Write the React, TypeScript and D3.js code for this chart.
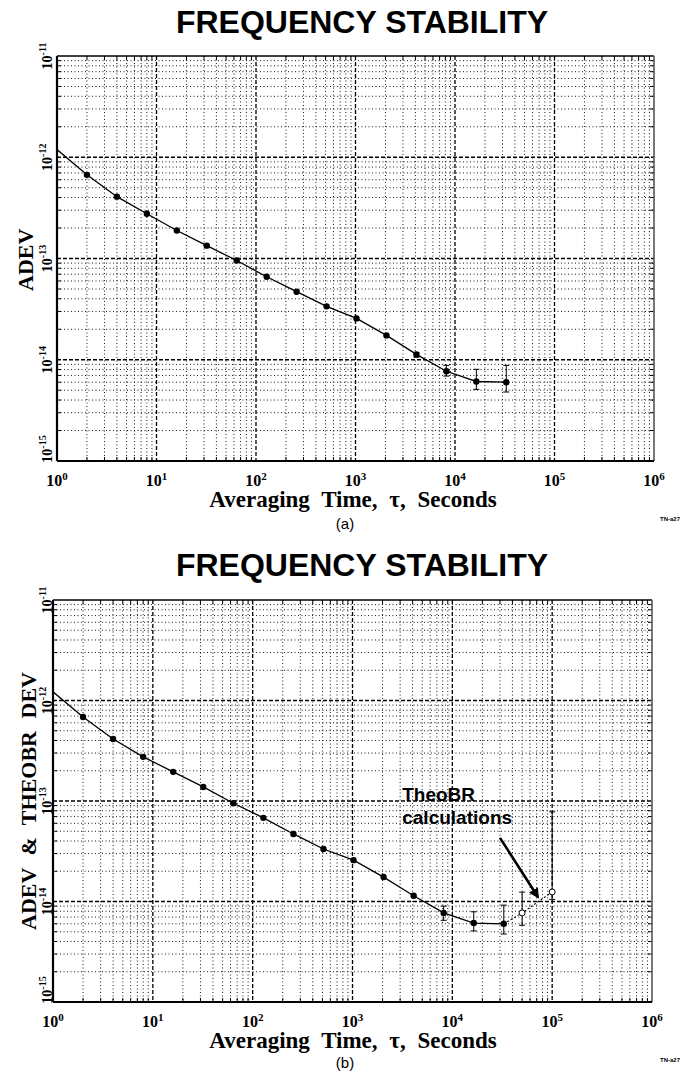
import React from "react";
import * as d3 from "d3";

// ---------- data ----------
const titleText = "FREQUENCY STABILITY";
const xTickExps = [0, 1, 2, 3, 4, 5, 6];
const yTickExps = [-15, -14, -13, -12, -11];

// panel (a) ADEV
const tauA = [1, 2, 4, 8, 16, 32, 64, 128, 256, 512, 1024, 2048, 4096, 8192, 16384, 32768];
const adevA = [1.19e-12, 6.7e-13, 4.08e-13, 2.77e-13, 1.89e-13, 1.34e-13, 9.55e-14, 6.6e-14, 4.7e-14, 3.37e-14, 2.56e-14, 1.74e-14, 1.13e-14, 7.7e-15, 6.1e-15, 6.0e-15];
const errLoA: (number | null)[] = [null, null, null, null, null, null, null, null, null, null, null, null, 1.06e-14, 6.9e-15, 5.1e-15, 4.8e-15];
const errHiA: (number | null)[] = [null, null, null, null, null, null, null, null, null, null, null, null, 1.18e-14, 8.8e-15, 8.05e-15, 8.8e-15];

// panel (b) ADEV
const tauB = [1, 2, 4, 8, 16, 32, 64, 128, 256, 512, 1024, 2048, 4096, 8192, 16384, 32768];
const adevB = [1.22e-12, 6.86e-13, 4.14e-13, 2.75e-13, 1.95e-13, 1.38e-13, 9.5e-14, 6.8e-14, 4.7e-14, 3.33e-14, 2.58e-14, 1.75e-14, 1.14e-14, 7.7e-15, 6.1e-15, 6.0e-15];
const errLoB: (number | null)[] = [null, null, null, null, null, null, null, null, null, null, null, null, null, 6.5e-15, 5.1e-15, 4.75e-15];
const errHiB: (number | null)[] = [null, null, null, null, null, null, null, null, null, null, null, null, null, 9.0e-15, 7.9e-15, 9.2e-15];

// panel (b) TheoBR
const tauTheo = [50000, 100000];
const theoVal = [7.7e-15, 1.245e-14];
const theoLo = [5.8e-15, 1.05e-14];
const theoHi = [1.24e-14, 7.8e-14];

// annotation (data coordinates)
const annLines = ["TheoBR", "calculations"];
const annTau = 3150;
const annVals = [1.0e-13, 5.9e-14];
const arrowFrom = { tau: 30000, val: 4.3e-14 };
const arrowTo = { tau: 72000, val: 1.11e-14 };

const yLabelA = "ADEV";
const yLabelB = "ADEV & THEOBR DEV";
const xLabel = "Averaging Time, \u03c4, Seconds";

// ---------- layout ----------
const W = 689;
const H = 1080;
const SERIF = "'Liberation Serif', 'Times New Roman', serif";
const SANS = "'Liberation Sans', Arial, sans-serif";

type Geo = {
  left: number; right: number; top: number; bottom: number;
  titleY: number; yLabelX: number; yLabelY: number; capY: number;
};

const geoA: Geo = { left: 57, right: 654, top: 56, bottom: 461, titleY: 33, yLabelX: 33, yLabelY: 291, capY: 529 };
const geoB: Geo = { left: 53, right: 652, top: 600, bottom: 1002, titleY: 576, yLabelX: 36, yLabelY: 930, capY: 1068 };

function minorVals(lo: number, hi: number) {
  const out: number[] = [];
  for (let e = lo; e < hi; e++) {
    for (let k = 2; k <= 9; k++) out.push(k * Math.pow(10, e));
  }
  return out;
}

function Panel(props: {
  g: Geo; id: string; caption: string; yLabel: string;
  tau: number[]; val: number[]; lo: (number | null)[]; hi: (number | null)[];
  theo?: boolean;
}) {
  const { g, id, caption, yLabel, tau, val, lo, hi, theo } = props;
  const x = d3.scaleLog().domain([1, 1e6]).range([g.left, g.right]);
  const y = d3.scaleLog().domain([1e-15, 1e-11]).range([g.bottom, g.top]);
  const xMinor = minorVals(0, 6);
  const yMinor = minorVals(-15, -11);
  const line = d3.line<[number, number]>().x((d) => x(d[0])).y((d) => y(d[1]));
  const pts: [number, number][] = tau.map((t, i) => [t, val[i]]);
  const theoPts: [number, number][] = theo
    ? [[tau[tau.length - 1], val[val.length - 1]], ...tauTheo.map((t, i) => [t, theoVal[i]] as [number, number])]
    : [];
  const tick = 4;

  return (
    <g>
      <text x={362} y={g.titleY} textAnchor="middle" fontFamily={SANS} fontWeight="bold" fontSize={32} fill="#000">
        {titleText}
      </text>
      <defs>
        <clipPath id={"clip" + id}>
          <rect x={g.left} y={g.top} width={g.right - g.left} height={g.bottom - g.top} />
        </clipPath>
      </defs>
      {/* minor grid */}
      {xMinor.map((v, i) => (
        <line key={"xm" + i} x1={x(v)} x2={x(v)} y1={g.top} y2={g.bottom} stroke="#000" strokeWidth={0.9} strokeDasharray="1,2.5" />
      ))}
      {yMinor.map((v, i) => (
        <line key={"ym" + i} x1={g.left} x2={g.right} y1={y(v)} y2={y(v)} stroke="#000" strokeWidth={0.9} strokeDasharray="1,2.5" />
      ))}
      {/* major grid */}
      {xTickExps.slice(1, -1).map((e) => (
        <line key={"xM" + e} x1={x(Math.pow(10, e))} x2={x(Math.pow(10, e))} y1={g.top} y2={g.bottom} stroke="#000" strokeWidth={1.3} strokeDasharray="4,2" />
      ))}
      {yTickExps.slice(1, -1).map((e) => (
        <line key={"yM" + e} x1={g.left} x2={g.right} y1={y(Math.pow(10, e))} y2={y(Math.pow(10, e))} stroke="#000" strokeWidth={1.3} strokeDasharray="4,2" />
      ))}
      {/* small ticks */}
      {xMinor.map((v, i) => (
        <g key={"xt" + i}>
          <line x1={x(v)} x2={x(v)} y1={g.bottom} y2={g.bottom - tick} stroke="#000" strokeWidth={1} />
          <line x1={x(v)} x2={x(v)} y1={g.top} y2={g.top + tick} stroke="#000" strokeWidth={1} />
        </g>
      ))}
      {yMinor.map((v, i) => (
        <g key={"yt" + i}>
          <line x1={g.left} x2={g.left + tick} y1={y(v)} y2={y(v)} stroke="#000" strokeWidth={1} />
          <line x1={g.right} x2={g.right - tick} y1={y(v)} y2={y(v)} stroke="#000" strokeWidth={1} />
        </g>
      ))}
      {/* frame */}
      <line x1={g.left} x2={g.right} y1={g.top} y2={g.top} stroke="#000" strokeWidth={1.6} />
      <line x1={g.right} x2={g.right} y1={g.top} y2={g.bottom} stroke="#555" strokeWidth={1.6} />
      <line x1={g.left} x2={g.right} y1={g.bottom} y2={g.bottom} stroke="#000" strokeWidth={2.2} />
      <line x1={g.left} x2={g.left} y1={g.top} y2={g.bottom} stroke="#000" strokeWidth={2.2} />

      {/* data */}
      <g clipPath={`url(#clip${id})`}>
        <path d={line(pts) || ""} fill="none" stroke="#000" strokeWidth={1.3} />
        {theo && <path d={line(theoPts) || ""} fill="none" stroke="#000" strokeWidth={1.1} strokeDasharray="2,2" />}
        {tau.map((t, i) =>
          lo[i] != null && hi[i] != null ? (
            <g key={"eb" + i}>
              <line x1={x(t)} x2={x(t)} y1={y(lo[i] as number)} y2={y(hi[i] as number)} stroke="#000" strokeWidth={1} />
              <line x1={x(t) - 3} x2={x(t) + 3} y1={y(lo[i] as number)} y2={y(lo[i] as number)} stroke="#000" strokeWidth={1} />
              <line x1={x(t) - 3} x2={x(t) + 3} y1={y(hi[i] as number)} y2={y(hi[i] as number)} stroke="#000" strokeWidth={1} />
            </g>
          ) : null
        )}
        {tau.map((t, i) => (t > 1 ? <circle key={"p" + i} cx={x(t)} cy={y(val[i])} r={3.2} fill="#000" /> : null))}
        {theo &&
          tauTheo.map((t, i) => (
            <g key={"th" + i}>
              <line x1={x(t)} x2={x(t)} y1={y(theoLo[i])} y2={y(theoHi[i])} stroke="#000" strokeWidth={1} />
              <line x1={x(t) - 3} x2={x(t) + 3} y1={y(theoLo[i])} y2={y(theoLo[i])} stroke="#000" strokeWidth={1} />
              <line x1={x(t) - 3} x2={x(t) + 3} y1={y(theoHi[i])} y2={y(theoHi[i])} stroke="#000" strokeWidth={1} />
              <circle cx={x(t)} cy={y(theoVal[i])} r={3} fill="#fff" stroke="#000" strokeWidth={1} />
            </g>
          ))}
      </g>

      {/* annotation */}
      {theo && (
        <g>
          {annLines.map((s, i) => (
            <text key={"an" + i} x={x(annTau)} y={y(annVals[i])} fontFamily={SANS} fontWeight="bold" fontSize={19} fill="#000">
              {s}
            </text>
          ))}
          <line x1={x(arrowFrom.tau)} y1={y(arrowFrom.val)} x2={x(arrowTo.tau)} y2={y(arrowTo.val)} stroke="#000" strokeWidth={2.6} markerEnd="url(#arrowhead)" />
        </g>
      )}

      {/* x tick labels */}
      {xTickExps.map((e) => (
        <text key={"xl" + e} x={x(Math.pow(10, e))} y={g.bottom + 25} textAnchor="middle" fontFamily={SERIF} fontWeight="bold" fontSize={16} fill="#000">
          10<tspan dy={-6} fontSize={11}>{e}</tspan>
        </text>
      ))}
      {/* y tick labels */}
      {yTickExps.map((e) => {
        const yy = y(Math.pow(10, e)) - (e === -15 ? 12 : 0);
        return (
          <text key={"yl" + e} transform={`translate(52,${yy}) rotate(-90)`} textAnchor="middle" fontFamily={SERIF} fontWeight="bold" fontSize={14} fill="#000">
            10<tspan dy={-6} fontSize={10}>{e}</tspan>
          </text>
        );
      })}
      {/* axis titles */}
      <text transform={`translate(${g.yLabelX},${g.yLabelY}) rotate(-90)`} textAnchor="start" fontFamily={SERIF} fontWeight="bold" fontSize={22} wordSpacing={7} fill="#000">
        {yLabel}
      </text>
      <text x={353} y={g.bottom + 46} textAnchor="middle" fontFamily={SERIF} fontWeight="bold" fontSize={23} wordSpacing={6} fill="#000">
        {xLabel}
      </text>
      <text x={345} y={g.capY} textAnchor="middle" fontFamily={SANS} fontSize={15} fill="#000">
        {caption}
      </text>
      <text x={660} y={g.bottom + 60} fontFamily={SANS} fontWeight="bold" fontSize={6} fill="#000">
        TN-a27
      </text>
    </g>
  );
}

export default function App() {
  return (
    <svg width={W} height={H} viewBox={`0 0 ${W} ${H}`} style={{ position: "absolute", left: 0, top: 0, background: "#fff" }}>
      <defs>
        <marker id="arrowhead" viewBox="0 0 10 10" refX="8" refY="5" markerWidth="4" markerHeight="4" orient="auto">
          <path d="M0,0 L10,5 L0,10 z" fill="#000" />
        </marker>
      </defs>
      <rect x={0} y={0} width={W} height={H} fill="#fff" />
      <Panel g={geoA} id="a" caption="(a)" yLabel={yLabelA} tau={tauA} val={adevA} lo={errLoA} hi={errHiA} />
      <Panel g={geoB} id="b" caption="(b)" yLabel={yLabelB} tau={tauB} val={adevB} lo={errLoB} hi={errHiB} theo />
    </svg>
  );
}
